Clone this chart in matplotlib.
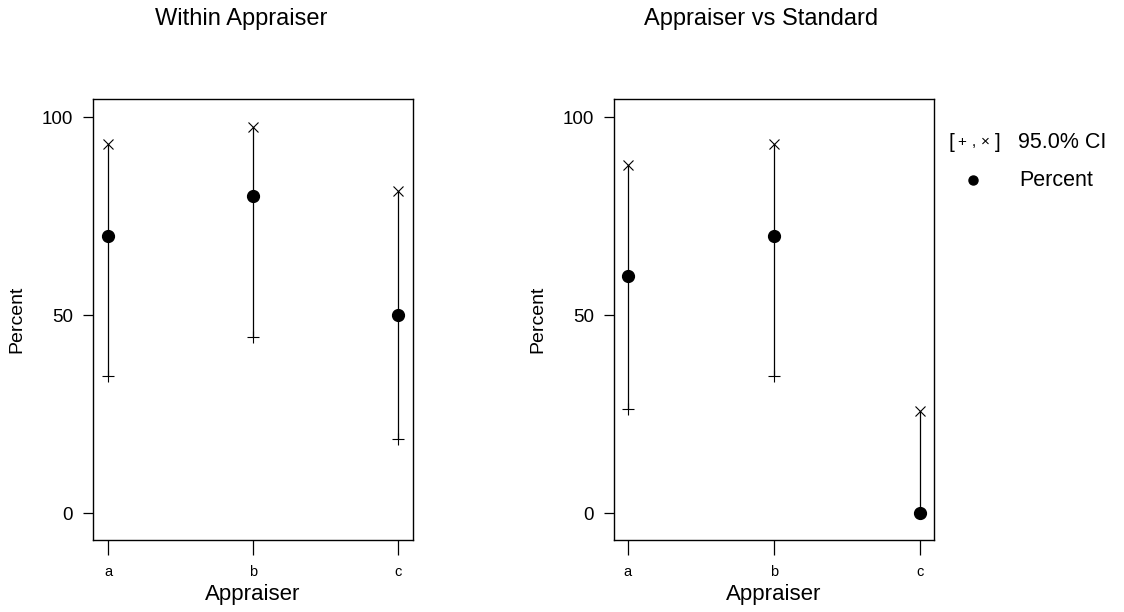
import matplotlib
matplotlib.use('Agg')
import matplotlib.pyplot as plt

plt.rcParams['font.family'] = ['Liberation Sans', 'DejaVu Sans']

# Data: percent agreement and 95% CI per appraiser
appraisers = ['a', 'b', 'c']

within_pct = [70.0, 80.0, 50.0]
within_lo = [34.75, 44.39, 18.71]
within_hi = [93.33, 97.48, 81.29]

vs_std_pct = [60.0, 70.0, 0.0]
vs_std_lo = [26.24, 34.75, 0.0]
vs_std_hi = [87.84, 93.33, 25.89]

panel_titles = ['Within Appraiser', 'Appraiser vs Standard']


def draw_panel(ax, pct, lo, hi, xlim):
    x = list(range(len(appraisers)))
    ax.vlines(x, lo, hi, color='black', linewidth=0.9)
    ax.plot(x, hi, linestyle='none', marker='x', color='black',
            markersize=7, markeredgewidth=0.8)
    ax.plot(x, lo, linestyle='none', marker='+', color='black',
            markersize=8, markeredgewidth=0.8)
    ax.plot(x, pct, linestyle='none', marker='o', color='black',
            markersize=8.5)
    ax.set_xlim(*xlim)
    ax.set_ylim(-6.7, 104.6)
    ax.set_xticks(x)
    ax.set_xticklabels(appraisers, fontsize=10.5)
    ax.set_yticks([0, 50, 100])
    ax.set_yticklabels(['0', '50', '100'], fontsize=13.5)
    ax.tick_params(axis='x', length=11, width=0.9, pad=7)
    ax.tick_params(axis='y', length=7.5, width=0.9, pad=7)
    for s in ax.spines.values():
        s.set_linewidth(1.0)
    ax.set_xlabel('Appraiser', fontsize=16, labelpad=4)
    ax.set_ylabel('Percent', fontsize=14, labelpad=12)


fig = plt.figure(figsize=(11.24, 6.12), dpi=100)
ax1 = fig.add_axes([0.0830, 0.1181, 0.2842, 0.7201])
ax2 = fig.add_axes([0.5465, 0.1181, 0.2844, 0.7201])

draw_panel(ax1, within_pct, within_lo, within_hi, (-0.103, 2.099))
draw_panel(ax2, vs_std_pct, vs_std_lo, vs_std_hi, (-0.092, 2.095))

fig.text(0.215, 0.969, panel_titles[0], fontsize=17, ha='center', va='center')
fig.text(0.677, 0.969, panel_titles[1], fontsize=17, ha='center', va='center')

# legend block on the right
ly1 = 1 - 142 / 612
ly2 = 1 - 180 / 612
for ch, px, fs in [('[', 951, 15), ('+', 962, 11), (',', 974, 11),
                   ('\u00d7', 985, 11), (']', 998, 15)]:
    fig.text(px / 1124, ly1, ch, fontsize=fs, ha='center', va='center')
fig.text(1018 / 1124, ly1, '95.0% CI', fontsize=15.5, ha='left', va='center')
fig.lines.append(plt.Line2D([973 / 1124], [ly2], transform=fig.transFigure,
                            marker='o', color='black', markersize=6.5))
fig.text(1019 / 1124, ly2, 'Percent', fontsize=15.5, ha='left', va='center')

fig.savefig('out.png', dpi=100)
